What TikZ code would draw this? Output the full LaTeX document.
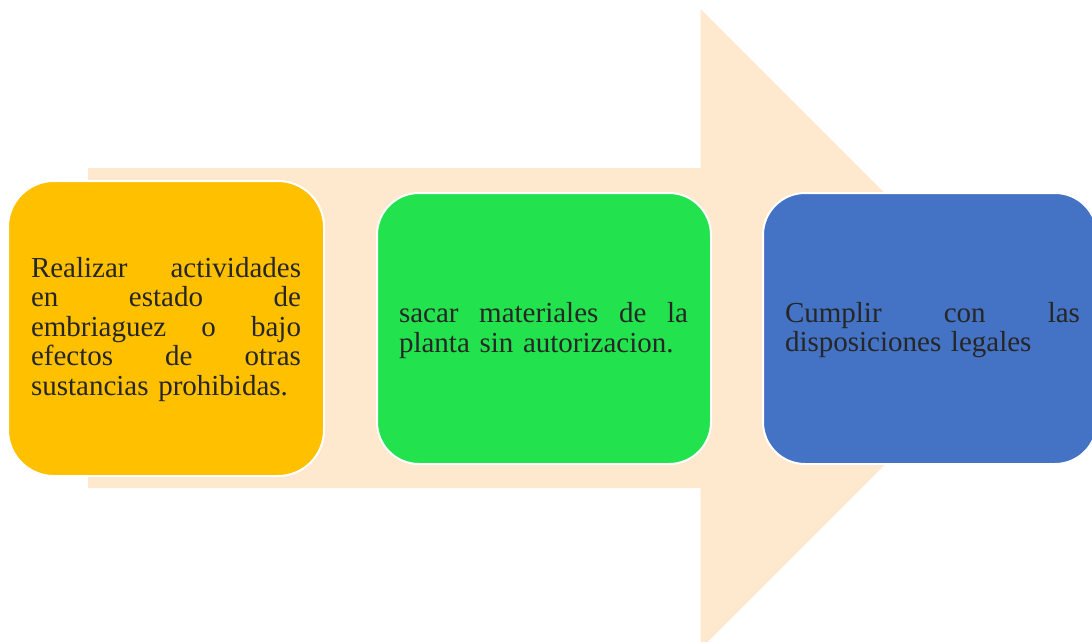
\documentclass[tikz,border=0pt]{standalone}
\usepackage{fontspec}
\setmainfont{Liberation Serif}
\definecolor{arrowc}{HTML}{FEE8CE}
\definecolor{orangec}{HTML}{FFC000}
\definecolor{greenc}{HTML}{22E34E}
\definecolor{bluec}{HTML}{4472C4}
\definecolor{txt}{HTML}{262626}
\newcommand\jl[1]{\hbox to \hsize{#1}}
\tikzset{
  card/.style={draw=white, line width=2pt, inner sep=0pt, outer sep=0pt},
  cardtext/.style={inner sep=0pt, outer sep=0pt, text=txt,
    font=\fontsize{29}{29.5}\selectfont, align=left}
}
\begin{document}
\begin{tikzpicture}[x=1pt,y=-1pt]
\useasboundingbox (0,0) rectangle (1092,642);
\clip (0,0) rectangle (1092,642);
% big arrow
\fill[arrowc] (88,168) -- (700.5,168) -- (700.5,9) -- (1020.5,329) -- (700.5,649) -- (700.5,488) -- (88,488) -- cycle;
% cards
\node[card, fill=orangec, rounded corners=46pt, minimum width=316pt, minimum height=295pt] (b1) at (166,328.5) {};
\node[card, fill=greenc, rounded corners=42pt, minimum width=334pt, minimum height=271pt] (b2) at (544,328.5) {};
\node[card, fill=bluec, rounded corners=42pt, minimum width=334pt, minimum height=271pt] (b3) at (930,328.5) {};
% texts
\node[cardtext, text width=270pt] (t1) at (166,329.3) {%
\jl{Realizar\hfill actividades}
\jl{en\hfill estado\hfill de}
\jl{embriaguez\hfill o\hfill bajo}
\jl{efectos\hfill de\hfill otras}
\hbox{sustancias prohibidas.}};
\node[cardtext, text width=289pt] (t2) at (543.5,330.3) {%
\jl{sacar\hfill materiales\hfill de\hfill la}
\hbox{planta sin autorizacion.}};
\node[cardtext, text width=295pt] (t3) at (932.5,330.3) {%
\jl{Cumplir\hfill con\hfill las}
\hbox{disposiciones legales}};
\end{tikzpicture}
\end{document}
